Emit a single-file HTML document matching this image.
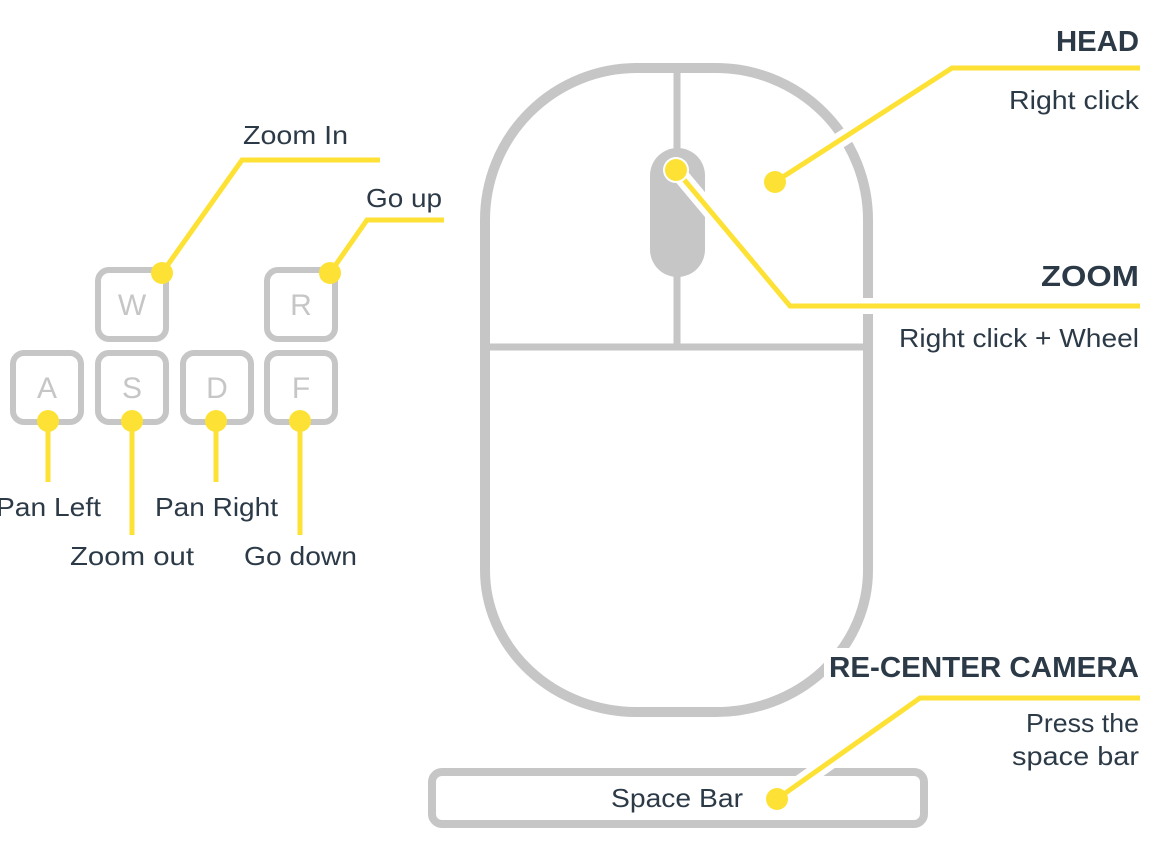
<!DOCTYPE html>
<html><head><meta charset="utf-8"><style>
html,body{margin:0;padding:0;background:#fff;}
svg{display:block;}
text{font-family:"Liberation Sans",sans-serif;fill:#2c3a47;}
</style></head><body>
<svg width="1156" height="846" viewBox="0 0 1156 846">
<g fill="none" stroke="#c6c6c6">
<path d="M485 220 A152 152 0 0 1 637 68 L716 68 A152 152 0 0 1 868 220 L868 570 A152 142 0 0 1 716 712 L637 712 A152 142 0 0 1 485 570 Z" stroke-width="10"/>
<line x1="677" y1="68" x2="677" y2="347" stroke-width="7"/>
<line x1="485" y1="347" x2="868" y2="347" stroke-width="7"/>
<rect x="432" y="772" width="492" height="52" rx="10" stroke-width="8"/>
<g stroke-width="6">
<rect x="98" y="270" width="68" height="69" rx="11"/>
<rect x="267" y="270" width="68" height="69" rx="11"/>
<rect x="13" y="353" width="68" height="69" rx="11"/>
<rect x="98" y="353" width="68" height="69" rx="11"/>
<rect x="183" y="353" width="68" height="69" rx="11"/>
<rect x="267" y="353" width="68" height="69" rx="11"/>
</g>
</g>
<rect x="650" y="148" width="55" height="129" rx="27.5" fill="#c6c6c6"/>
<g font-size="30" text-anchor="middle">
<text x="132" y="315" style="fill:#c6c6c6">W</text>
<text x="301" y="315" style="fill:#c6c6c6">R</text>
<text x="47" y="398" style="fill:#c6c6c6">A</text>
<text x="132" y="398" style="fill:#c6c6c6">S</text>
<text x="217" y="398" style="fill:#c6c6c6">D</text>
<text x="301" y="398" style="fill:#c6c6c6">F</text>
</g>
<rect x="824" y="648" width="320" height="44" fill="#fff"/>
<g fill="none" stroke="#fff" stroke-width="16">
<polyline points="775,182 952,68 1140,68"/>
<polyline points="676,170 790,306 1140,306"/>
<polyline points="777,799 920,698 1140,698"/>
</g>
<g fill="none" stroke="#fde235" stroke-width="5">
<polyline points="775,182 952,68 1140,68"/>
<polyline points="676,170 790,306 1140,306"/>
<polyline points="777,799 920,698 1140,698"/>
<polyline points="162,273 242,160 380,160"/>
<polyline points="330,273 367,220 444,220"/>
<line x1="48" y1="421" x2="48" y2="482"/>
<line x1="132" y1="421" x2="132" y2="535"/>
<line x1="216" y1="421" x2="216" y2="482"/>
<line x1="300" y1="421" x2="300" y2="535"/>
</g>
<g fill="#fde235">
<circle cx="676" cy="170" r="13" fill="#fff"/>
<circle cx="676" cy="170" r="11"/>
<circle cx="775" cy="182" r="11"/>
<circle cx="777" cy="799" r="11"/>
<circle cx="162" cy="273" r="11"/>
<circle cx="330" cy="273" r="11"/>
<circle cx="48" cy="421" r="11"/>
<circle cx="132" cy="421" r="11"/>
<circle cx="216" cy="421" r="11"/>
<circle cx="300" cy="421" r="11"/>
</g>
<g font-size="26">
<text x="243" y="144" textLength="105" lengthAdjust="spacingAndGlyphs">Zoom In</text>
<text x="442" y="207" text-anchor="end" textLength="76" lengthAdjust="spacingAndGlyphs">Go up</text>
<text x="-4" y="516" textLength="105" lengthAdjust="spacingAndGlyphs">Pan Left</text>
<text x="70" y="565" textLength="124" lengthAdjust="spacingAndGlyphs">Zoom out</text>
<text x="155" y="516" textLength="123" lengthAdjust="spacingAndGlyphs">Pan Right</text>
<text x="244" y="565" textLength="113" lengthAdjust="spacingAndGlyphs">Go down</text>
<text x="611" y="807" textLength="132" lengthAdjust="spacingAndGlyphs">Space Bar</text>
<text x="1139" y="109" text-anchor="end" textLength="130" lengthAdjust="spacingAndGlyphs">Right click</text>
<text x="1139" y="347" text-anchor="end" textLength="240" lengthAdjust="spacingAndGlyphs">Right click + Wheel</text>
<text x="1139" y="732" text-anchor="end" textLength="113" lengthAdjust="spacingAndGlyphs">Press the</text>
<text x="1139" y="765" text-anchor="end" textLength="127" lengthAdjust="spacingAndGlyphs">space bar</text>
</g>
<g font-size="29" font-weight="bold" text-anchor="end">
<text x="1139" y="51" textLength="83" lengthAdjust="spacingAndGlyphs">HEAD</text>
<text x="1139" y="286" textLength="98" lengthAdjust="spacingAndGlyphs">ZOOM</text>
<text x="1139" y="677" textLength="310" lengthAdjust="spacingAndGlyphs">RE-CENTER CAMERA</text>
</g>
</svg>
</body></html>
